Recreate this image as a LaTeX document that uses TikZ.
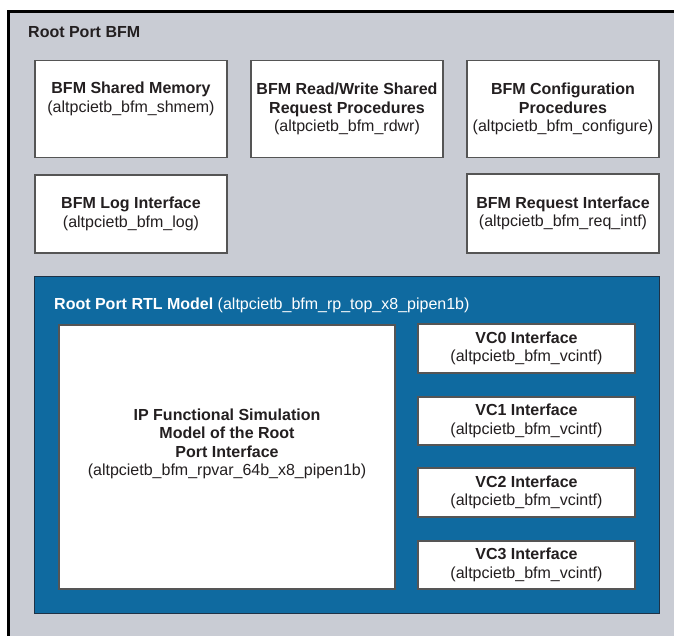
\documentclass[tikz,border=0pt]{standalone}
\usepackage{fontspec}
\setmainfont{Liberation Sans}
\definecolor{bggray}{RGB}{201,204,212}
\definecolor{rtlblue}{RGB}{15,106,160}
\definecolor{rtledge}{RGB}{30,50,70}
\definecolor{boxline}{RGB}{85,85,85}
\definecolor{txt}{RGB}{35,31,32}
\newcommand\bfmfont{\fontsize{16}{18.5}\selectfont}
\begin{document}
\begin{tikzpicture}[x=1pt,y=-1pt,
  box/.style={draw=boxline, line width=1.4pt, fill=white, inner sep=0pt,
    align=center, font=\bfmfont, text=txt},
  plain/.style={inner sep=0pt, align=center, font=\bfmfont, text=txt}]
\useasboundingbox (0,0) rectangle (674,635);
% outer BFM frame
\fill[bggray] (8,11) rectangle (680,640);
\draw[black, line width=3pt] (8.5,640) -- (8.5,11.5) -- (680,11.5);
\node[plain, anchor=west] (title) at (28,32) {\textbf{Root Port BFM}};
% upper boxes
\node[box, minimum width=192pt, minimum height=97pt] (shm) at (131,109)
  {\textbf{BFM Shared Memory}\\(altpcietb\_bfm\_shmem)\\\strut};
\node[box, minimum width=192pt, minimum height=97pt] (rdwr) at (347,109)
  {\textbf{BFM Read/Write Shared}\\\textbf{Request Procedures}\\(altpcietb\_bfm\_rdwr)};
\node[box, minimum width=192pt, minimum height=97pt] (cfg) at (563,109)
  {\textbf{BFM Configuration}\\\textbf{Procedures}\\(altpcietb\_bfm\_configure)};
\node[box, minimum width=192pt, minimum height=78pt] (log) at (131,214)
  {\textbf{BFM Log Interface}\\(altpcietb\_bfm\_log)};
\node[box, minimum width=192pt, minimum height=79pt] (req) at (563,213.5)
  {\textbf{BFM Request Interface}\\(altpcietb\_bfm\_req\_intf)};
% RTL model
\node[draw=rtledge, line width=0.8pt, fill=rtlblue, inner sep=0pt,
  minimum width=625pt, minimum height=337pt] (rtl) at (346.5,444.5) {};
\node[inner sep=0pt, anchor=west, font=\bfmfont, text=white] (rtllabel) at (54,305)
  {\textbf{Root Port RTL Model} (altpcietb\_bfm\_rp\_top\_x8\_pipen1b)};
\node[box, minimum width=336pt, minimum height=264pt] (ip) at (227,457) {};
\node[plain] (iptext) at (227,444)
  {\textbf{IP Functional Simulation}\\\textbf{Model of the Root}\\\textbf{Port Interface}\\(altpcietb\_bfm\_rpvar\_64b\_x8\_pipen1b)};
\node[box, minimum width=217pt, minimum height=49pt] (vc0) at (526.5,348.5)
  {\textbf{VC0 Interface}\\(altpcietb\_bfm\_vcintf)};
\node[box, minimum width=217pt, minimum height=48pt] (vc1) at (526.5,421)
  {\textbf{VC1 Interface}\\(altpcietb\_bfm\_vcintf)};
\node[box, minimum width=217pt, minimum height=49pt] (vc2) at (526.5,492.5)
  {\textbf{VC2 Interface}\\(altpcietb\_bfm\_vcintf)};
\node[box, minimum width=217pt, minimum height=48pt] (vc3) at (526.5,565)
  {\textbf{VC3 Interface}\\(altpcietb\_bfm\_vcintf)};
\end{tikzpicture}
\end{document}
